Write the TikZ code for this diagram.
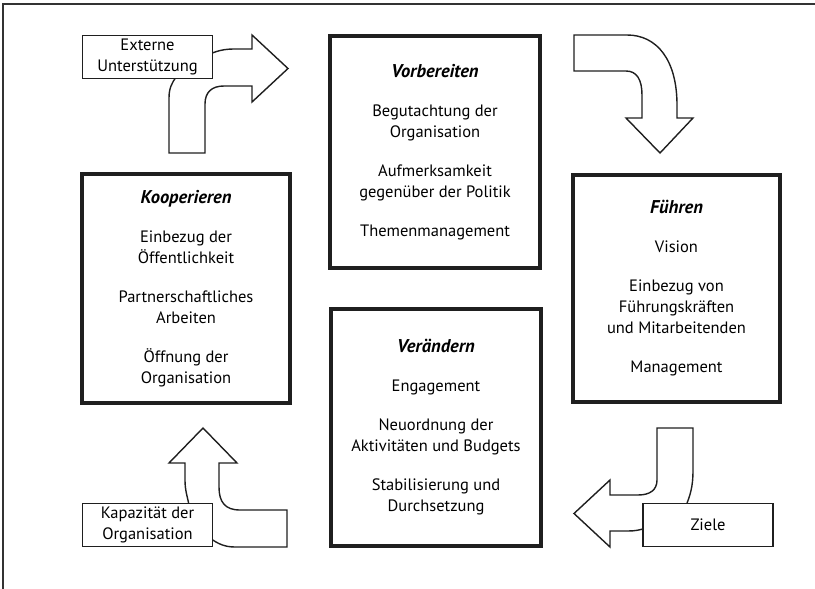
\documentclass[tikz,border=0pt]{standalone}
\usepackage{fontspec}
\setmainfont{PT Sans}
\newcommand{\boxtitle}[1]{{\fontsize{18.5}{21}\selectfont\textbf{\textit{#1}}}}
\begin{document}
\begin{tikzpicture}[x=1pt,y=-1pt,
  txt/.style={font=\fontsize{16.5}{21}\selectfont},
  bigbox/.style={draw=black!88, line width=4pt, fill=white, align=center, inner sep=0pt, txt},
  smallbox/.style={draw=black!88, line width=1.4pt, fill=white, align=center, inner sep=0pt, txt, minimum width=130pt, minimum height=43pt},
  arrowshape/.style={draw=black!88, line width=1.4pt, fill=white, line join=miter},
  frameline/.style={draw=black!80, line width=1.2pt}]
\useasboundingbox (0,0) rectangle (815,589);
\draw[frameline] (3,589) -- (3,4) -- (815,4);

% arrows
\draw[arrowshape] (169,153) -- (169,98) .. controls (169,88) and (172,83) .. (176,77)
  -- (195,56) -- (208,55) .. controls (216,51) and (224,49) .. (234,49) -- (252,49)
  -- (252,35) -- (288,68.5) -- (252,102) -- (252,86) -- (224,86)
  .. controls (212,86) and (205,92) .. (205,104) -- (205,153) -- cycle;

\draw[arrowshape] (574,35) -- (627,35) .. controls (657,35) and (677,60) .. (677,105)
  -- (677,118) -- (693,118) -- (660,153) -- (626,118) -- (642,118) -- (642,95)
  .. controls (642,80) and (637,71) .. (626,71) -- (574,71) -- cycle;

\draw[arrowshape] (693,428) -- (657,428) -- (657,480) .. controls (657,490) and (650,495) .. (638,495)
  -- (610,495) -- (610,480) -- (574,513.5) -- (610,547) -- (610,531) -- (628,531)
  .. controls (635,531) and (640,530) .. (646,528) -- (660,520) -- (686,506)
  .. controls (690,495) and (693,488) .. (693,470) -- cycle;

\draw[arrowshape] (203,428) -- (237,463) -- (219,463) -- (219,487)
  .. controls (219,502) and (225,510) .. (240,510) -- (287,510) -- (287,547) -- (235,547)
  .. controls (225,547) and (218,544) .. (210,538) -- (190,515) -- (189,505)
  .. controls (187,495) and (185,490) .. (185,480) -- (185,463) -- (169,463) -- cycle;

% big boxes
\node[bigbox, minimum width=210pt, minimum height=232pt] (vor) at (435,152)
  {\boxtitle{Vorbereiten}\\[18pt]Begutachtung der\\Organisation\\[18pt]Aufmerksamkeit\\gegenüber der Politik\\[18pt]Themenmanagement};
\node[bigbox, minimum width=208pt, minimum height=229pt] (koop) at (186,288.5)
  {\boxtitle{Kooperieren}\\[18pt]Einbezug der\\Öffentlichkeit\\[18pt]Partnerschaftliches\\Arbeiten\\[18pt]Öffnung der\\Organisation};
\node[bigbox, minimum width=207pt, minimum height=227pt] (fuehr) at (676.5,288)
  {\boxtitle{Führen}\\[18pt]Vision\\[18pt]Einbezug von\\Führungskräften\\und Mitarbeitenden\\[18pt]Management};
\node[bigbox, minimum width=210pt, minimum height=237pt] (veraend) at (436,427.5)
  {\boxtitle{Verändern}\\[18pt]Engagement\\[18pt]Neuordnung der\\Aktivitäten und Budgets\\[18pt]Stabilisierung und\\Durchsetzung};

% small boxes
\node[smallbox] (ext) at (147.5,57) {Externe\\Unterstützung};
\node[smallbox] (kap) at (147.5,525) {Kapazität der\\Organisation};
\node[smallbox] (ziele) at (708,525) {Ziele};
\end{tikzpicture}
\end{document}
